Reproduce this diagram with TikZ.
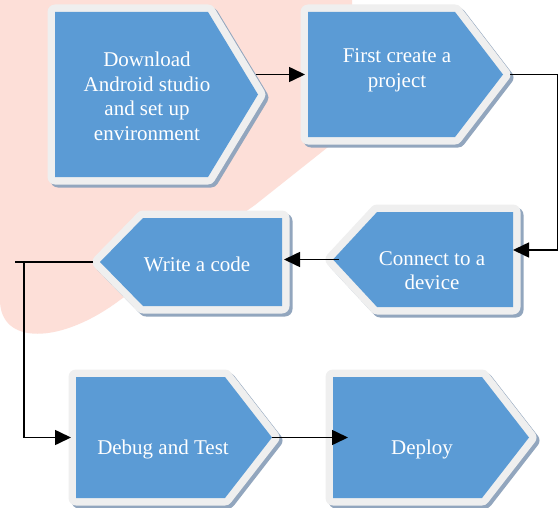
\documentclass[tikz,border=0pt]{standalone}
\usepackage{fontspec}
\setmainfont{Liberation Serif}
\usetikzlibrary{arrows.meta,positioning,shapes.symbols}
\definecolor{stepblue}{RGB}{91,155,213}
\definecolor{stepframe}{RGB}{239,239,239}
\definecolor{stepshadow}{RGB}{146,166,190}
\definecolor{blush}{RGB}{253,223,216}

\begin{document}
\begin{tikzpicture}[x=1pt,y=-1pt,
  stepbox/.style={shape=signal, fill=stepblue, inner sep=0pt, outer sep=0pt,
    preaction={draw=stepshadow, line width=15pt, line join=round, transform canvas={shift={(3pt,-3pt)}}},
    preaction={draw=stepframe, line width=15pt, line join=round}},
  toeast/.style={stepbox, signal to=east, anchor=west},
  towest/.style={stepbox, signal to=west, anchor=east},
  steptext/.style={text=white, align=center, font=\fontsize{21}{24.5}\selectfont},
  flow/.style={line width=1.6pt, -{Triangle[length=16pt,width=15pt]}}
]
\path[use as bounding box, fill=white] (0,0) rectangle (559,508);
% pale blot behind the top rows
\fill[blush] (0,0) -- (352,0) -- (352,128) -- (255,205) -- (120,300)
  .. controls (60,345) and (0,345) .. (0,300) -- cycle;

% steps
\node[toeast, minimum width=203pt, minimum height=165pt, signal pointer angle=117.6] (dl) at (55,94.5) {};
\node[toeast, minimum width=195pt, minimum height=125pt, signal pointer angle=105] (fc) at (308,74.5) {};
\node[towest, minimum width=180pt, minimum height=95pt, signal pointer angle=94.3] (ct) at (513,259.5) {};
\node[towest, minimum width=182pt, minimum height=88pt, signal pointer angle=91.3] (wc) at (282,262) {};
\node[toeast, minimum width=196pt, minimum height=121pt, signal pointer angle=104.3] (db) at (76,437.5) {};
\node[toeast, minimum width=196pt, minimum height=121pt, signal pointer angle=104.3] (dp) at (333,437.5) {};

\node[steptext] (dltext) at ([shift={(92,2)}]dl.west) {Download\\Android studio\\and set up\\environment};
\node[steptext] (fctext) at ([shift={(89,-4)}]fc.west) {First create a\\project};
\node[steptext] (cttext) at ([shift={(-81,11)}]ct.east) {Connect to a\\device};
\node[steptext] (wctext) at ([shift={(-85,2)}]wc.east) {Write a code};
\node[steptext] (dbtext) at ([shift={(87,11.5)}]db.west) {Debug and Test};
\node[steptext] (dptext) at ([shift={(89,11.5)}]dp.west) {Deploy};

% connectors
\coordinate (rrail) at (557.5,0);
\coordinate (lrail) at (24,0);
\coordinate (lstub) at (15,0);
\draw[flow, shorten <=-2pt, shorten >=3pt] (fc.west -| dl.east) -- (fc.west);
\draw[flow, shorten <=7pt] (fc.east) -- (fc.east -| rrail) |- ([yshift=9.5pt]ct.east);
\draw[flow, shorten <=-6pt, shorten >=2pt] (ct.west) -- (ct.west -| wc.east);
\draw[line width=1.6pt, shorten <=7pt] (wc.west) -- (wc.west -| lstub);
\draw[flow, shorten >=5pt] (wc.west -| lrail) |- (db.west);
\draw[flow, shorten >=-15pt] (db.east) -- (dp.west);
\end{tikzpicture}
\end{document}
